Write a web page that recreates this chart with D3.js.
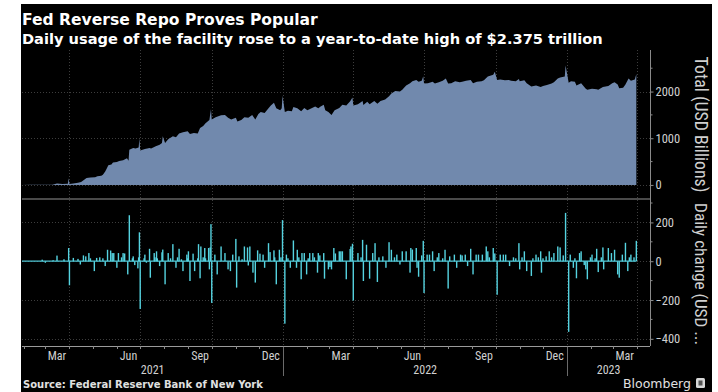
<!DOCTYPE html>
<html><head><meta charset="utf-8">
<script src="https://cdn.jsdelivr.net/npm/d3@7"></script>
<style>html,body{margin:0;padding:0;background:#fff;}svg{display:block}</style>
</head><body><svg id="c" width="718" height="392"></svg>
<script>
const title = "Fed Reverse Repo Proves Popular";
const subtitle = "Daily usage of the facility rose to a year-to-date high of $2.375 trillion";
const source = "Source: Federal Reserve Bank of New York";
const brand = "Bloomberg";
const totalLabel = "Total (USD Billions)";
const changeLabel = "Daily change (USD ...";
const monthLabelIdx = [2, 5, 8, 11];
const totalTicks = [0, 1000, 2000];
const totalMinor = [500, 1500, 2500];
const changeTicks = [-400, -200, 0, 200];
const changeMinor = [-300, -100, 100, 300];

const totalDates = ["2021-01-30","2021-02-10","2021-02-22","2021-03-01","2021-03-10","2021-03-16","2021-03-23","2021-03-30","2021-03-31","2021-04-01","2021-04-06","2021-04-12","2021-04-16","2021-04-20","2021-04-23","2021-04-28","2021-05-04","2021-05-07","2021-05-12","2021-05-14","2021-05-17","2021-05-19","2021-05-21","2021-05-25","2021-05-27","2021-06-01","2021-06-04","2021-06-09","2021-06-14","2021-06-16","2021-06-17","2021-06-22","2021-06-25","2021-06-29","2021-06-30","2021-07-01","2021-07-07","2021-07-13","2021-07-15","2021-07-21","2021-07-26","2021-07-29","2021-07-30","2021-08-02","2021-08-06","2021-08-12","2021-08-16","2021-08-20","2021-08-25","2021-08-31","2021-09-03","2021-09-08","2021-09-13","2021-09-16","2021-09-20","2021-09-23","2021-09-28","2021-09-30","2021-10-01","2021-10-06","2021-10-13","2021-10-18","2021-10-22","2021-10-26","2021-11-01","2021-11-03","2021-11-08","2021-11-12","2021-11-17","2021-11-22","2021-11-26","2021-11-30","2021-12-03","2021-12-08","2021-12-13","2021-12-16","2021-12-20","2021-12-23","2021-12-28","2021-12-30","2021-12-31","2022-01-03","2022-01-07","2022-01-12","2022-01-14","2022-01-19","2022-01-24","2022-01-28","2022-02-01","2022-02-07","2022-02-11","2022-02-15","2022-02-18","2022-02-22","2022-02-24","2022-02-28","2022-03-04","2022-03-08","2022-03-14","2022-03-18","2022-03-23","2022-03-28","2022-03-31","2022-04-01","2022-04-07","2022-04-13","2022-04-14","2022-04-19","2022-04-22","2022-04-28","2022-05-02","2022-05-06","2022-05-12","2022-05-17","2022-05-20","2022-05-25","2022-05-31","2022-06-03","2022-06-08","2022-06-13","2022-06-16","2022-06-21","2022-06-24","2022-06-28","2022-06-30","2022-07-01","2022-07-06","2022-07-12","2022-07-15","2022-07-20","2022-07-25","2022-07-29","2022-08-01","2022-08-05","2022-08-10","2022-08-16","2022-08-19","2022-08-24","2022-08-30","2022-09-02","2022-09-07","2022-09-13","2022-09-16","2022-09-21","2022-09-28","2022-09-30","2022-10-03","2022-10-07","2022-10-13","2022-10-18","2022-10-21","2022-10-27","2022-10-31","2022-11-01","2022-11-07","2022-11-10","2022-11-16","2022-11-22","2022-11-28","2022-12-01","2022-12-06","2022-12-12","2022-12-15","2022-12-20","2022-12-23","2022-12-29","2022-12-30","2023-01-03","2023-01-06","2023-01-11","2023-01-13","2023-01-19","2023-01-25","2023-01-27","2023-02-02","2023-02-08","2023-02-10","2023-02-16","2023-02-23","2023-02-28","2023-03-03","2023-03-07","2023-03-09","2023-03-14","2023-03-17","2023-03-21","2023-03-24","2023-03-29","2023-03-31"];
const totalValues = [1,3,2,5,3,28,22,25,143,20,30,45,65,110,150,160,165,185,195,220,285,350,420,440,480,490,510,530,570,520,755,790,780,800,1000,740,770,790,780,830,860,900,1040,900,980,1040,1020,1100,1130,1150,1090,1110,1100,1220,1260,1320,1390,1620,1400,1450,1490,1500,1440,1400,1440,1360,1390,1450,1440,1500,1400,1520,1560,1540,1640,1700,1760,1640,1600,1640,1910,1560,1590,1580,1670,1640,1580,1650,1600,1650,1680,1640,1680,1720,1600,1560,1500,1600,1650,1720,1700,1790,1870,1700,1730,1800,1710,1780,1730,1800,1740,1800,1830,1900,1960,2010,2000,2040,2130,2180,2220,2250,2210,2230,2330,2170,2180,2210,2170,2200,2230,2280,2170,2180,2220,2200,2210,2230,2250,2180,2210,2220,2240,2320,2360,2425,2250,2260,2240,2250,2230,2220,2270,2220,2240,2180,2110,2130,2100,2120,2140,2170,2200,2280,2300,2320,2560,2190,2220,2210,2130,2180,2060,2040,2060,2050,2040,2100,2120,2180,2200,2150,2070,2080,2150,2280,2230,2260,2375];

const changeDates = ["2021-02-25","2021-03-01","2021-03-11","2021-03-16","2021-03-25","2021-03-31","2021-04-01","2021-04-06","2021-04-12","2021-04-15","2021-04-19","2021-04-22","2021-04-26","2021-04-28","2021-05-03","2021-05-06","2021-05-10","2021-05-14","2021-05-17","2021-05-20","2021-05-24","2021-05-26","2021-05-28","2021-06-01","2021-06-03","2021-06-07","2021-06-09","2021-06-11","2021-06-15","2021-06-17","2021-06-21","2021-06-22","2021-06-24","2021-06-28","2021-06-29","2021-06-30","2021-07-01","2021-07-06","2021-07-07","2021-07-09","2021-07-13","2021-07-14","2021-07-19","2021-07-20","2021-07-22","2021-07-23","2021-07-26","2021-07-29","2021-07-30","2021-08-02","2021-08-06","2021-08-09","2021-08-12","2021-08-16","2021-08-18","2021-08-20","2021-08-23","2021-08-25","2021-08-30","2021-08-31","2021-09-01","2021-09-03","2021-09-07","2021-09-09","2021-09-13","2021-09-14","2021-09-16","2021-09-17","2021-09-20","2021-09-22","2021-09-23","2021-09-27","2021-09-28","2021-09-29","2021-09-30","2021-10-01","2021-10-05","2021-10-08","2021-10-13","2021-10-18","2021-10-22","2021-10-25","2021-10-28","2021-11-01","2021-11-02","2021-11-05","2021-11-09","2021-11-12","2021-11-16","2021-11-17","2021-11-19","2021-11-23","2021-11-26","2021-11-29","2021-12-02","2021-12-06","2021-12-08","2021-12-13","2021-12-15","2021-12-20","2021-12-21","2021-12-23","2021-12-27","2021-12-29","2021-12-31","2022-01-03","2022-01-05","2022-01-07","2022-01-10","2022-01-14","2022-01-18","2022-01-19","2022-01-21","2022-01-24","2022-01-25","2022-01-28","2022-01-31","2022-02-02","2022-02-04","2022-02-08","2022-02-10","2022-02-14","2022-02-15","2022-02-17","2022-02-22","2022-02-23","2022-02-28","2022-03-02","2022-03-04","2022-03-07","2022-03-09","2022-03-14","2022-03-16","2022-03-18","2022-03-23","2022-03-28","2022-03-29","2022-03-31","2022-04-01","2022-04-07","2022-04-11","2022-04-13","2022-04-14","2022-04-18","2022-04-22","2022-04-26","2022-04-29","2022-05-02","2022-05-04","2022-05-09","2022-05-13","2022-05-17","2022-05-20","2022-05-24","2022-05-27","2022-05-31","2022-06-03","2022-06-08","2022-06-13","2022-06-14","2022-06-16","2022-06-21","2022-06-22","2022-06-24","2022-06-28","2022-06-30","2022-07-01","2022-07-05","2022-07-08","2022-07-12","2022-07-14","2022-07-18","2022-07-20","2022-07-25","2022-07-28","2022-08-01","2022-08-03","2022-08-09","2022-08-12","2022-08-17","2022-08-19","2022-08-23","2022-08-26","2022-08-30","2022-09-02","2022-09-06","2022-09-09","2022-09-14","2022-09-19","2022-09-21","2022-09-23","2022-09-28","2022-09-30","2022-10-03","2022-10-07","2022-10-11","2022-10-14","2022-10-19","2022-10-24","2022-10-27","2022-10-31","2022-11-01","2022-11-04","2022-11-07","2022-11-10","2022-11-16","2022-11-18","2022-11-22","2022-11-25","2022-11-28","2022-11-29","2022-12-01","2022-12-05","2022-12-09","2022-12-12","2022-12-15","2022-12-20","2022-12-23","2022-12-27","2022-12-30","2023-01-03","2023-01-05","2023-01-09","2023-01-11","2023-01-13","2023-01-17","2023-01-19","2023-01-23","2023-01-25","2023-01-27","2023-01-31","2023-02-02","2023-02-06","2023-02-08","2023-02-10","2023-02-14","2023-02-16","2023-02-17","2023-02-23","2023-02-27","2023-03-03","2023-03-07","2023-03-09","2023-03-13","2023-03-17","2023-03-20","2023-03-22","2023-03-24","2023-03-28","2023-03-31"];
const changeValues = [8,-8,5,29,10,68,-124,17,12,-17,30,25,42,15,-51,17,20,15,-25,59,55,42,42,-34,42,20,42,40,-68,237,15,25,-20,-37,20,149,-246,15,34,-8,64,-85,42,20,51,15,-25,46,60,-119,42,15,88,-34,20,64,10,-51,34,15,51,-102,39,-51,15,88,-88,76,20,68,15,68,-42,71,191,-215,34,-68,76,42,-42,-51,34,115,-136,25,10,76,71,-22,76,-59,-110,56,39,34,-34,93,47,56,20,-119,59,20,212,-322,34,15,-34,107,-34,59,20,-93,42,42,-68,15,42,42,20,-59,42,30,42,-90,-42,-30,-42,68,40,51,51,51,-93,63,76,90,-203,42,20,110,-102,85,-90,42,93,-107,20,25,-34,98,59,20,34,-17,51,51,-59,68,60,68,-34,-80,30,105,-164,34,34,51,-51,20,42,15,59,-141,25,34,-34,34,30,34,-25,64,-68,34,34,34,76,51,20,68,40,-173,34,34,34,-25,20,15,93,-42,20,51,-51,-76,15,34,20,51,-59,15,25,51,20,42,76,71,30,249,-364,34,-34,15,-88,42,51,-20,-42,-93,20,34,15,64,-56,20,71,-42,68,42,59,-68,-85,34,95,-51,20,34,20,105];

const parse = d3.utcParse("%Y-%m-%d");
const total = totalDates.map((d, i) => ({date: parse(d), v: totalValues[i]}));
const change = changeDates.map((d, i) => ({date: parse(d), v: changeValues[i]}));

const svg = d3.select("#c");
const L = 22, R = 648, AX = 650;
const sans = "'DejaVu Sans', sans-serif";
const narrow = "'Liberation Sans Narrow', 'Roboto Condensed', 'Liberation Sans', sans-serif";

svg.append("rect").attr("x", 21).attr("y", 4).attr("width", 691).attr("height", 388).attr("fill", "#000");

const x = d3.scaleUtc().domain([parse("2021-01-30"), parse("2023-04-15")]).range([L, R]);
const yTop = d3.scaleLinear().domain([-280, 2890]).range([198, 50]);
const yBot = d3.scaleLinear().domain([-437, 315.5]).range([346, 200]);

function fit(sel, target) {
  const w = sel.node().getComputedTextLength();
  sel.attr("font-size", parseFloat(sel.attr("font-size")) * target / w);
  return sel;
}

// grid
const grid = svg.append("g").attr("stroke", "#3d3d3d").attr("stroke-dasharray", "1,2").attr("stroke-width", 1);
const quarters = d3.utcMonth.every(3).range(x.domain()[0], x.domain()[1]).filter(d => d.getUTCMonth() % 3 === 0);
grid.selectAll(".v").data(quarters).join("line")
  .attr("x1", d => Math.round(x(d)) + 0.5).attr("x2", d => Math.round(x(d)) + 0.5)
  .attr("y1", 50).attr("y2", 346);
grid.selectAll(".ht").data(totalTicks).join("line").attr("class", "ht")
  .attr("x1", L).attr("x2", AX).attr("y1", d => Math.round(yTop(d)) + 0.5).attr("y2", d => Math.round(yTop(d)) + 0.5);
grid.selectAll(".hb").data(changeTicks).join("line").attr("class", "hb")
  .attr("x1", L).attr("x2", AX).attr("y1", d => Math.round(yBot(d)) + 0.5).attr("y2", d => Math.round(yBot(d)) + 0.5);

// area
const area = d3.area().x(d => x(d.date)).y0(yTop(0)).y1(d => yTop(d.v));
svg.append("path").datum(total).attr("d", area).attr("fill", "#7189ad");

// bars
svg.append("line").attr("x1", x(total[0].date)).attr("x2", x(total[total.length - 1].date))
  .attr("y1", yBot(0)).attr("y2", yBot(0)).attr("stroke", "#4fc6d4").attr("stroke-width", 1.2);
svg.append("g").selectAll("rect").data(change).join("rect")
  .attr("x", d => x(d.date) - 0.7).attr("width", 1.4)
  .attr("y", d => yBot(Math.max(0, d.v))).attr("height", d => Math.abs(yBot(d.v) - yBot(0)))
  .attr("fill", "#55d3e0");

// separator between panels
svg.append("line").attr("x1", L).attr("x2", AX).attr("y1", 199).attr("y2", 199).attr("stroke", "#4a4a4a").attr("stroke-width", 2);

// right axes
svg.append("line").attr("x1", AX + 0.5).attr("x2", AX + 0.5).attr("y1", 50).attr("y2", 346).attr("stroke", "#8a8a8a");
function rightAxis(scale, ticks, minor) {
  const g = svg.append("g").attr("transform", `translate(${AX + 0.5},0)`);
  g.call(d3.axisRight(scale).tickValues(ticks).tickSize(3).tickPadding(2).tickFormat(d3.format("d")));
  g.select(".domain").remove();
  g.selectAll(".tick line").attr("stroke", "#8a8a8a");
  g.selectAll(".tick text").attr("fill", "#d0d0d0").attr("font-size", 12.5).attr("font-family", narrow);
  g.selectAll(".minor").data(minor).join("line").attr("class", "minor")
    .attr("x1", 0).attr("x2", 2).attr("y1", d => scale(d)).attr("y2", d => scale(d)).attr("stroke", "#8a8a8a");
}
rightAxis(yTop, totalTicks, totalMinor);
rightAxis(yBot, changeTicks, changeMinor);

// axis titles
fit(svg.append("text").attr("transform", `translate(701,${(53 + 196) / 2}) rotate(90)`)
  .attr("text-anchor", "middle").attr("dy", "0.35em").attr("fill", "#d0d0d0")
  .attr("font-size", 13).attr("font-family", narrow).text(totalLabel), 136);
fit(svg.append("text").attr("transform", `translate(701,${(203 + 345) / 2}) rotate(90)`)
  .attr("text-anchor", "middle").attr("dy", "0.35em").attr("fill", "#d0d0d0")
  .attr("font-size", 13).attr("font-family", narrow).text(changeLabel), 142);

// x axis
svg.append("line").attr("x1", L).attr("x2", AX).attr("y1", 346.5).attr("y2", 346.5).attr("stroke", "#9a9a9a");
const months = d3.utcMonth.range(x.domain()[0], x.domain()[1]);
svg.append("g").selectAll("line").data(months).join("line")
  .attr("x1", d => Math.round(x(d)) + 0.5).attr("x2", d => Math.round(x(d)) + 0.5)
  .attr("y1", 346).attr("y2", 349).attr("stroke", "#8a8a8a");
const labelMonths = months.filter(d => monthLabelIdx.includes(d.getUTCMonth()));
svg.append("g").selectAll("text").data(labelMonths).join("text")
  .attr("x", d => x(d3.utcDay.offset(d, 15))).attr("y", 360).attr("text-anchor", "middle")
  .attr("fill", "#d0d0d0").attr("font-size", 12).attr("font-family", narrow)
  .text(d => d3.utcFormat("%b")(d));
const years = d3.utcYear.range(d3.utcYear.floor(x.domain()[0]), x.domain()[1]);
const yearBounds = years.map(y => [Math.max(x(y), L), Math.min(x(d3.utcYear.offset(y, 1)), AX)]);
svg.append("g").selectAll("text").data(years).join("text")
  .attr("x", (d, i) => (yearBounds[i][0] + yearBounds[i][1]) / 2).attr("y", 374).attr("text-anchor", "middle")
  .attr("fill", "#d0d0d0").attr("font-size", 12).attr("font-family", narrow)
  .text(d => d3.utcFormat("%Y")(d));
svg.append("g").selectAll("line").data(years.slice(1)).join("line")
  .attr("x1", d => Math.round(x(d)) + 0.5).attr("x2", d => Math.round(x(d)) + 0.5)
  .attr("y1", 347).attr("y2", 376).attr("stroke", "#6a6a6a");

// titles
fit(svg.append("text").attr("x", 22).attr("y", 25).attr("fill", "#fff").attr("font-weight", "bold")
  .attr("font-size", 19).attr("font-family", sans).text(title), 296);
fit(svg.append("text").attr("x", 22).attr("y", 44).attr("fill", "#fff").attr("font-weight", "bold")
  .attr("font-size", 13).attr("font-family", sans).text(subtitle), 581);
fit(svg.append("text").attr("x", 23).attr("y", 388).attr("fill", "#e0e0e0").attr("font-weight", "bold")
  .attr("font-size", 10).attr("font-family", sans).text(source), 240);
fit(svg.append("text").attr("x", 623).attr("y", 388).attr("fill", "#e0e0e0")
  .attr("font-size", 12).attr("font-family", sans).text(brand), 68);
svg.append("rect").attr("x", 696).attr("y", 378).attr("width", 9).attr("height", 10).attr("rx", 1.5).attr("fill", "#d8d8d8");
svg.append("rect").attr("x", 698.5).attr("y", 380.5).attr("width", 4).attr("height", 5).attr("fill", "#555");
</script></body></html>
